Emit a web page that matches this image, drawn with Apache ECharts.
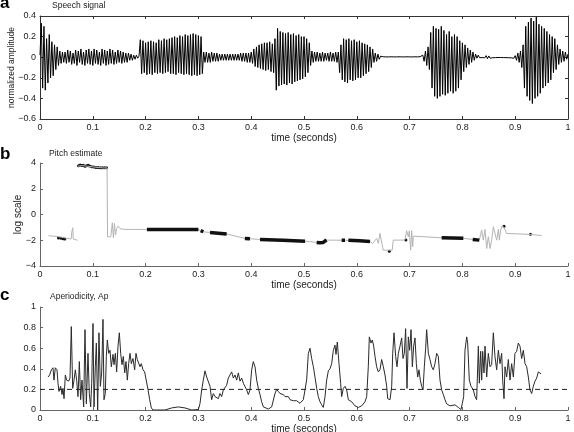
<!DOCTYPE html>
<html><head><meta charset="utf-8">
<script src="https://cdn.jsdelivr.net/npm/echarts/dist/echarts.min.js"></script>
<style>html,body{margin:0;padding:0;background:#fff}#c{width:574px;height:432px}</style>
</head><body><div id="c"></div>
<script>
// ---------- DATA ----------
// Panel a: speech waveform, one sample every speechStep seconds (peak-to-peak readings)
const speechStep = 0.0025;
const speechAmp = [
 0.02,0.33,-0.30,0.30,-0.32,0.18,-0.25,0.22,-0.20,0.15,-0.18,0.12,-0.12,0.10,-0.08,0.06,-0.06,0.05,-0.05,
 0.05,-0.06,0.07,-0.05,0.06,-0.07,0.04,-0.06,0.07,-0.08,0.06,-0.05,0.08,-0.07,0.05,-0.08,0.07,-0.06,0.08,-0.07,
 0.06,-0.08,0.08,-0.06,0.07,-0.07,0.05,-0.08,0.08,-0.06,0.07,-0.08,0.06,-0.07,0.08,-0.06,0.07,-0.07,0.05,-0.06,
 0.07,-0.05,0.06,-0.06,0.05,-0.05,0.04,-0.05,0.04,-0.03,0.03,-0.03,0.02,-0.02,0.02,-0.01,0.01,
 0.17,-0.16,0.16,-0.15,0.14,-0.17,0.15,-0.16,0.16,-0.17,0.15,-0.15,0.14,-0.16,0.17,-0.15,0.16,-0.16,0.18,-0.15,
 0.17,-0.14,0.18,-0.16,0.19,-0.16,0.20,-0.17,0.19,-0.15,0.21,-0.16,0.20,-0.17,0.22,-0.16,0.21,-0.17,0.22,-0.18,
 0.23,-0.17,0.22,-0.18,0.21,-0.17,0.20,-0.16,0.05,
 -0.05,0.05,-0.05,0.04,-0.05,0.05,-0.04,0.04,-0.04,0.04,-0.04,0.03,-0.03,0.03,-0.03,0.03,-0.03,0.03,-0.03,0.03,
 -0.03,0.03,-0.03,0.03,-0.03,0.03,-0.03,0.04,-0.04,0.04,-0.04,0.04,-0.05,0.04,-0.05,0.05,
 -0.06,0.08,-0.09,0.10,-0.10,0.12,-0.11,0.13,-0.12,0.14,-0.13,0.14,-0.12,0.15,-0.14,0.13,-0.15,0.18,
 -0.32,0.28,-0.28,0.25,-0.27,0.24,-0.26,0.23,-0.27,0.24,-0.25,0.22,-0.26,0.23,-0.24,0.21,-0.23,0.22,-0.22,0.20,
 -0.21,0.20,-0.19,0.18,-0.15,0.14,-0.08,
 0.06,-0.05,0.05,-0.04,0.05,-0.04,0.04,-0.04,0.05,-0.04,0.04,-0.03,0.04,-0.04,0.05,-0.04,0.04,-0.04,0.05,-0.05,0.05,
 -0.15,0.12,-0.22,0.18,-0.24,0.17,-0.25,0.18,-0.22,0.16,-0.23,0.17,-0.22,0.15,-0.20,0.16,-0.20,0.14,-0.18,0.13,
 -0.16,0.12,-0.14,0.10,-0.10,0.08,
 -0.05,0.04,-0.04,0.03,-0.02,0.01,
 -0.004,0.004,-0.003,0.003,-0.004,0.003,-0.003,0.004,-0.003,0.003,-0.004,0.003,-0.003,0.004,-0.003,0.003,
 -0.004,0.003,-0.003,0.004,-0.003,0.003,-0.004,0.003,-0.003,0.004,-0.003,0.003,-0.004,0.005,-0.01,0.02,
 -0.04,0.06,-0.08,0.10,-0.12,
 0.24,-0.30,0.30,-0.38,0.28,-0.40,0.27,-0.38,0.30,-0.36,0.26,-0.37,0.22,-0.35,0.25,-0.33,0.20,-0.35,0.22,-0.33,
 0.20,-0.30,0.16,-0.22,0.14,
 -0.14,0.12,-0.10,0.09,-0.07,0.07,-0.05,0.05,-0.03,0.03,-0.01,0.02,
 -0.005,0.004,-0.004,0.005,-0.006,0.015,-0.015,0.012,-0.01,0.006,-0.005,0.004,-0.004,0.004,-0.003,0.004,
 -0.003,0.004,-0.004,0.003,-0.004,0.004,-0.005,0.005,-0.006,0.008,-0.01,0.015,
 -0.03,0.04,-0.05,0.06,-0.10,0.12,
 -0.30,0.30,-0.38,0.34,-0.42,0.38,-0.45,0.35,-0.40,0.39,-0.38,0.32,-0.35,0.30,-0.30,0.28,-0.28,0.25,-0.25,0.22,
 -0.22,0.20,-0.15,0.18,-0.12,0.12,
 -0.07,0.08,-0.05,0.06,-0.04,0.05,-0.02,0.03
];

// Panel b: pitch estimate (log scale); null = gap
const pitchGrayT = [0.016,0.025,0.035,0.045,0.055,0.059,0.060,0.062,0.063,0.066,0.071,null,
 0.072,0.08,0.09,0.10,0.11,0.12,0.127,0.128,0.134,0.137,0.139,0.141,0.143,0.145,0.148,0.152,0.158,0.17,0.2,0.3,
 0.306,0.322,0.354,0.389,0.417,0.502,0.525,0.535,0.544,0.578,0.625,0.630,0.6376,0.6408,0.6439,0.647,0.650,0.667,
 0.669,0.691,0.6944,0.6976,0.6995,0.702,0.7039,0.7058,0.7071,0.7607,0.8018,0.8195,0.832,0.8365,0.8396,0.8428,
 0.846,0.8491,0.8523,0.8554,0.8586,0.8617,0.8649,0.8681,0.870,0.8725,0.875,0.8788,0.8838,0.93,0.9501];
const pitchGrayV = [-1.65,-1.68,-1.72,-1.8,-1.88,-1.9,-1.4,-1.03,-1.9,-2.0,-2.0,null,
 3.75,3.8,3.75,3.7,3.65,3.62,3.62,-1.73,-1.73,-0.65,-1.8,-0.7,-1.6,-1.1,-0.9,-1.1,-1.15,-1.16,-1.16,-1.16,
 -1.34,-1.39,-1.52,-1.86,-1.94,-2.07,-2.17,-2.2,-1.99,-2.0,-2.1,-2.25,-1.86,-2.25,-1.47,-1.34,-2.77,-2.77,
 -1.99,-1.99,-1.26,-1.73,-1.26,-2.77,-1.26,-2.51,-1.68,-1.81,-1.85,-1.94,-1.99,-1.21,-1.99,-1.16,
 -2.64,-1.73,-2.64,-1.99,-0.95,-0.82,-1.99,-1.16,-1.99,-1.21,-0.9,-1.0,-1.47,-1.55,-1.64];
const pitchBoldT = [0.2025,0.30,null,0.3043,0.3093,null,0.322,0.3535,null,0.388,0.3977,null,
 0.4167,0.46,0.502,null,0.524,0.530,0.536,0.540,0.5429,null,0.5713,0.5777,null,0.584,0.605,0.625,null,
 0.7607,0.8018,null,0.8195,0.832];
const pitchBoldV = [-1.16,-1.16,null,-1.25,-1.34,null,-1.39,-1.52,null,-1.86,-1.88,null,
 -1.94,-2.0,-2.07,null,-2.17,-2.2,-2.18,-2.05,-1.99,null,-2.0,-2.0,null,-2.0,-2.04,-2.1,null,
 -1.81,-1.85,null,-1.94,-1.99];
const pitchDotT = [0.035,0.040,0.044,0.047,0.073,0.076,0.079,0.082,0.085,0.088,0.091,0.094,0.098,0.102,0.106,
 0.110,0.114,0.118,0.122,0.126,0.6616,0.693,0.8788,0.929];
const pitchDotV = [-1.82,-1.85,-1.88,-1.9,3.78,3.84,3.8,3.82,3.74,3.78,3.82,3.76,3.7,3.68,3.65,
 3.65,3.64,3.64,3.64,3.64,-2.85,-1.99,-0.92,-1.54];

// Panel c: aperiodicity
const apTime = [
 0.0152,0.0183,0.0215,0.0246,0.0265,0.029,0.0322,0.0341,0.036,0.0391,0.0417,0.0436,0.0455,0.048,0.0505,0.0543,
 0.0568,0.0593,0.0619,0.0644,0.0669,0.0694,0.072,0.0745,0.077,0.0795,0.0827,0.0852,0.0878,0.0909,0.0934,0.096,
 0.0979,0.1004,0.1023,0.1048,0.1067,0.1092,0.1117,0.1143,0.1168,0.1193,0.1212,0.1237,0.1256,0.1275,0.1301,0.1326,
 0.1351,0.1383,0.1402,0.1427,0.1452,0.1477,0.1503,0.1528,0.1553,0.1578,0.1604,0.1629,0.1654,0.1679,0.1705,0.173,
 0.1761,0.1793,0.1818,0.1843,0.1869,0.1894,0.1919,0.1951,0.1982,0.2014,0.2045,0.2077,0.2109,0.214,
 0.2367,0.2494,0.262,0.2746,0.2873,0.30,0.3031,0.3062,0.3093,0.3125,0.3157,0.3188,0.322,0.3251,0.3283,0.3314,
 0.3346,0.3378,0.3409,0.3441,0.3472,0.3504,0.3535,0.3567,0.3598,0.363,0.3662,0.3693,0.3725,0.3756,0.3788,0.3819,
 0.3851,0.3883,0.3914,0.3946,0.3977,0.4009,0.404,0.4072,0.4104,0.4135,0.4167,0.4198,0.423,0.4261,0.4325,0.4388,
 0.4451,0.4482,0.4514,0.4545,0.4577,0.4609,0.464,0.4703,0.4735,0.4798,0.4861,0.4924,
 0.4987,0.5019,0.505,0.5082,0.5114,0.5145,0.5177,0.5208,0.524,0.5271,0.5303,0.5335,0.5366,0.5398,0.5429,0.5461,
 0.5492,0.5524,0.5556,0.5587,0.5606,0.5631,0.5663,0.5694,0.5713,0.5745,0.5777,0.5808,0.584,0.5903,0.5966,0.6029,
 0.6092,0.6155,0.6187,0.6218,0.6237,0.6269,0.6294,0.632,0.6345,0.6376,0.6408,0.6439,0.6471,0.6503,0.6534,0.6566,
 0.6585,0.6629,0.6661,0.668,0.6705,0.6736,0.6761,0.6787,0.6818,0.685,0.6875,0.69,0.6925,0.6951,0.6976,0.7001,
 0.7027,0.7052,0.7077,0.7102,0.7128,0.7153,0.7178,0.7203,0.7229,0.7254,0.7279,0.7304,0.7323,
 0.7355,0.7386,0.7418,0.7449,0.7481,0.7513,0.7544,0.7576,0.7607,0.7639,0.767,0.7702,0.7765,0.786,0.7923,0.7973,
 0.7999,0.8024,0.8049,0.8081,0.81,0.8131,0.8163,0.8207,0.8239,0.827,0.8302,0.8321,0.8346,0.8365,0.8384,0.8409,
 0.8428,0.846,0.8491,0.8523,0.8554,0.8586,0.8617,0.8649,0.8681,0.8712,0.8744,0.8763,0.8788,0.8807,0.8838,0.887,
 0.8902,0.8933,0.8965,0.8996,0.9028,0.9059,0.9091,0.9122,0.9154,0.9186,0.9217,0.9249,0.928,0.9312,0.9343,0.9375,
 0.9407,0.9438,0.947,0.9489];
const apValue = [
 0.32,0.34,0.39,0.41,0.29,0.41,0.39,0.26,0.18,0.23,0.15,0.21,0.11,0.34,0.29,0.28,
 0.31,0.81,0.21,0.29,0.39,0.29,0.13,0.47,0.10,0.29,0.03,0.78,0.06,0.55,0.16,0.03,
 0.26,0.84,0.03,0.42,0.65,0.0,0.75,0.23,0.36,0.88,0.10,0.16,0.52,0.68,0.55,0.58,
 0.42,0.54,0.44,0.55,0.37,0.62,0.75,0.55,0.44,0.52,0.36,0.47,0.29,0.45,0.55,0.45,
 0.50,0.39,0.55,0.49,0.50,0.42,0.45,0.39,0.37,0.36,0.20,0.10,0.02,0.0,
 0.0,0.02,0.03,0.02,0.0,0.005,0.065,0.195,0.29,0.38,0.32,0.32,0.23,0.10,0.16,0.13,
 0.14,0.11,0.16,0.13,0.195,0.18,0.24,0.31,0.34,0.37,0.31,0.34,0.29,0.36,0.28,0.31,
 0.26,0.26,0.195,0.15,0.195,0.39,0.47,0.42,0.29,0.21,0.15,0.08,0.03,0.02,0.01,0.03,
 0.16,0.2,0.18,0.16,0.17,0.15,0.13,0.13,0.10,0.09,0.09,0.065,
 0.10,0.195,0.29,0.55,0.60,0.50,0.42,0.32,0.21,0.13,0.08,0.05,0.025,0.13,0.29,0.38,
 0.40,0.45,0.58,0.63,0.54,0.66,0.45,0.26,0.13,0.21,0.23,0.195,0.10,0.08,0.04,0.025,
 0.04,0.08,0.13,0.42,0.71,0.65,0.68,0.62,0.52,0.42,0.37,0.39,0.49,0.42,0.34,0.23,
 0.11,0.10,0.23,0.55,0.75,0.52,0.42,0.55,0.62,0.70,0.50,0.55,0.79,0.21,0.71,0.58,
 0.78,0.42,0.62,0.70,0.45,0.32,0.39,0.29,0.23,0.195,0.42,0.60,0.78,
 0.55,0.49,0.42,0.39,0.45,0.55,0.52,0.29,0.195,0.15,0.10,0.06,0.04,0.05,0.025,0.005,
 0.065,0.13,0.58,0.71,0.65,0.29,0.23,0.195,0.13,0.10,0.62,0.26,0.57,0.29,0.57,0.36,
 0.62,0.32,0.55,0.42,0.44,0.75,0.52,0.39,0.58,0.45,0.55,0.29,0.11,0.42,0.32,0.49,
 0.29,0.45,0.32,0.55,0.57,0.65,0.62,0.50,0.58,0.45,0.42,0.32,0.195,0.16,0.23,0.28,
 0.31,0.37,0.37,0.35];
const apThreshold = 0.2;
const apThresholdSpan = [0, 1];

// Axis ranges / ticks
const timeRange = [0, 1, 0.1];
const speechRange = [-0.6, 0.4, 0.2];
const pitchRange = [-4, 4, 2];
const apRange = [0, 1, 0.2];

const titles = ['Speech signal', 'Pitch estimate', 'Aperiodicity, Ap'];
const letters = ['a', 'b', 'c'];
const xName = 'time (seconds)';

// ---------- CHART ----------
const FONT = '"Liberation Sans", Arial, Helvetica, sans-serif';
const TXT = '#222';
function fmt(v) {
  const s = String(+Math.abs(v).toFixed(2));
  return v < 0 ? '\u2212' + s : s;
}
function pairs(T, V) { return T.map((t, i) => (t === null || V[i] === null) ? ['-', '-'] : [t, V[i]]); }

const gridBase = { containLabel: false, outerBoundsMode: 'none' };
const grids = [
  Object.assign({ left: 40, top: 16, width: 528, height: 103 }, gridBase),
  Object.assign({ left: 40, top: 163, width: 528, height: 103 }, gridBase),
  Object.assign({ left: 40, top: 307, width: 528, height: 103 }, gridBase)
];

function xAx(grid, color, opts) {
  return Object.assign({
    gridIndex: grid, type: 'value', min: timeRange[0], max: timeRange[1], interval: timeRange[2],
    position: 'bottom',
    axisLine: { onZero: false, lineStyle: { color: color, width: 1 } },
    axisTick: { inside: true, length: 3, lineStyle: { color: color } },
    axisLabel: { fontSize: 9, color: TXT, margin: 4, fontFamily: FONT, formatter: fmt },
    splitLine: { show: false },
    name: xName, nameLocation: 'middle', nameGap: 14, nameMoveOverlap: false,
    nameTextStyle: { fontSize: 10, color: TXT, fontFamily: FONT }
  }, opts || {});
}
function yAx(grid, range, color, opts) {
  return Object.assign({
    gridIndex: grid, type: 'value', min: range[0], max: range[1], interval: range[2],
    position: 'left',
    axisLine: { onZero: false, lineStyle: { color: color, width: 1 } },
    axisTick: { inside: true, length: 3, lineStyle: { color: color } },
    axisLabel: { fontSize: 9, color: TXT, margin: 4, fontFamily: FONT, formatter: fmt },
    splitLine: { show: false }, nameMoveOverlap: false
  }, opts || {});
}

const xAxes = [
  xAx(0, '#333'),
  xAx(0, '#333', { position: 'top', name: '', axisLabel: { show: false } }),
  xAx(1, '#666'),
  xAx(2, '#666')
];
const yAxes = [
  yAx(0, speechRange, '#333', { name: 'normalized amplitude', nameLocation: 'middle', nameGap: 24,
    nameTextStyle: { fontSize: 8.5, color: TXT, fontFamily: FONT } }),
  yAx(0, speechRange, '#333', { position: 'right', axisLabel: { show: false } }),
  yAx(1, pitchRange, '#666', { name: 'log scale', nameLocation: 'middle', nameGap: 17,
    nameTextStyle: { fontSize: 10, color: TXT, fontFamily: FONT } }),
  yAx(2, apRange, '#666')
];

const graphics = [];
const titlePos = [[52, 5.5], [49, 154], [50, 297]];
const letterPos = [[0, 3], [0, 154], [0, 295]];
titles.forEach((t, i) => graphics.push({ type: 'text', x: titlePos[i][0], y: titlePos[i][1],
  style: { text: t, font: '8.5px ' + FONT, fill: TXT, verticalAlign: 'middle' } }));
letters.forEach((t, i) => graphics.push({ type: 'text', x: letterPos[i][0], y: letterPos[i][1],
  style: { text: t, font: 'bold 17px ' + FONT, fill: '#000', verticalAlign: 'middle' } }));

const option = {
  animation: false,
  backgroundColor: '#fff',
  grid: grids,
  xAxis: xAxes,
  yAxis: yAxes,
  graphic: graphics,
  series: [
    { type: 'line', xAxisIndex: 0, yAxisIndex: 0, showSymbol: false, symbol: 'none',
      data: speechAmp.map((v, i) => [i * speechStep, v]),
      lineStyle: { color: '#000', width: 1 } },
    { type: 'line', xAxisIndex: 2, yAxisIndex: 2, showSymbol: false, symbol: 'none', connectNulls: false,
      data: pairs(pitchGrayT, pitchGrayV), lineStyle: { color: '#b4b4b4', width: 1 } },
    { type: 'line', xAxisIndex: 2, yAxisIndex: 2, showSymbol: false, symbol: 'none', connectNulls: false,
      data: pairs(pitchBoldT, pitchBoldV), lineStyle: { color: '#111', width: 3.5, cap: 'butt' } },
    { type: 'scatter', xAxisIndex: 2, yAxisIndex: 2, symbol: 'circle', symbolSize: 3,
      data: pairs(pitchDotT, pitchDotV), itemStyle: { color: '#111', opacity: 1, borderWidth: 0 } },
    { type: 'line', xAxisIndex: 3, yAxisIndex: 3, showSymbol: false, symbol: 'none',
      data: pairs(apTime, apValue), lineStyle: { color: '#2a2a2a', width: 1 } },
    { type: 'line', xAxisIndex: 3, yAxisIndex: 3, showSymbol: false, symbol: 'none',
      data: apThresholdSpan.map(t => [t, apThreshold]),
      lineStyle: { color: '#222', width: 1, type: [5, 4] } }
  ]
};
const chart = echarts.init(document.getElementById('c'), null, { renderer: 'canvas' });
chart.setOption(option);
</script></body></html>
